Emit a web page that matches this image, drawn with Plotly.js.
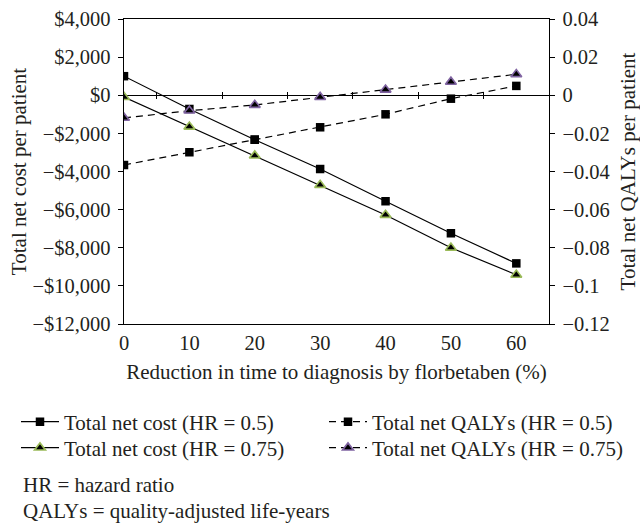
<!DOCTYPE html>
<html>
<head>
<meta charset="utf-8">
<script src="https://cdn.plot.ly/plotly-3.0.1.min.js"></script>
<style>html,body{margin:0;padding:0;background:#fff;}#chart{width:640px;height:523px;}</style>
</head>
<body>
<div id="chart"></div>
<script>
const reduction = [0, 10, 20, 30, 40, 50, 60];
const costHR050 = [1000, -720, -2330, -3870, -5560, -7240, -8820];
const costHR075 = [-100, -1650, -3170, -4710, -6280, -8000, -9420];
const qalyHR050 = [-0.0366, -0.0299, -0.0233, -0.0168, -0.0100, -0.0018, 0.0049];
const qalyHR075 = [-0.0119, -0.0081, -0.0051, -0.0010, 0.0029, 0.0070, 0.0110];
const costTicks = [4000, 2000, 0, -2000, -4000, -6000, -8000, -10000, -12000];
const costTickText = ['$4,000', '$2,000', '$0', '\u2212$2,000', '\u2212$4,000', '\u2212$6,000', '\u2212$8,000', '\u2212$10,000', '\u2212$12,000'];
const qalyTicks = [0.04, 0.02, 0, -0.02, -0.04, -0.06, -0.08, -0.1, -0.12];
const qalyTickText = ['0.04', '0.02', '0', '\u22120.02', '\u22120.04', '\u22120.06', '\u22120.08', '\u22120.1', '\u22120.12'];
const xTicks = [0, 10, 20, 30, 40, 50, 60];
const crossTicks = [5, 15, 25, 35, 45, 55];
const names = ['Total net cost (HR = 0.5)', 'Total net QALYs (HR = 0.5)', 'Total net cost (HR = 0.75)', 'Total net QALYs (HR = 0.75)'];
const notes = ['HR = hazard ratio', 'QALYs = quality-adjusted life-years'];

const FONT = 'Liberation Serif, Times New Roman, serif';
const TXT = '#231f20';
const W = 640, H = 523;
const M = {l: 124, r: 91, t: 19, b: 199};
const pw = W - M.l - M.r, ph = H - M.t - M.b;
const px = x => (x - M.l) / pw;
const py = y => (M.t + ph - y) / ph;

const sq = {symbol: 'square', size: 8.5, color: '#000', line: {color: '#000', width: 0}};
const triG = {symbol: 'triangle-up', size: 9.5, color: '#000', line: {color: '#9bbb59', width: 1.6}};
const triP = {symbol: 'triangle-up', size: 9.5, color: '#000', line: {color: '#8064a2', width: 1.6}};

const traces = [
  {x: reduction, y: costHR050, name: names[0], legend: 'legend', mode: 'lines+markers', line: {color: '#000', width: 1.2}, marker: sq, yaxis: 'y'},
  {x: reduction, y: qalyHR050, name: names[1], legend: 'legend2', mode: 'lines+markers', line: {color: '#000', width: 1.2, dash: '7px,5px'}, marker: sq, yaxis: 'y2'},
  {x: reduction, y: costHR075, name: names[2], legend: 'legend3', mode: 'lines+markers', line: {color: '#000', width: 1.2}, marker: triG, yaxis: 'y'},
  {x: reduction, y: qalyHR075, name: names[3], legend: 'legend4', mode: 'lines+markers', line: {color: '#000', width: 1.2, dash: '7px,5px'}, marker: triP, yaxis: 'y2'}
];

// legend slots: [left x of symbol area, row centre y] in page pixels
const legendSlots = [[16, 422], [324, 422], [16, 448], [324, 448]];
function legendAt(slot) {
  return {
    x: px(slot[0]), y: py(slot[1]), xanchor: 'left', yanchor: 'middle',
    orientation: 'v', itemwidth: 38,
    font: {family: FONT, size: 21, color: TXT}, bgcolor: 'rgba(0,0,0,0)', borderwidth: 0
  };
}

const layout = {
  width: W, height: H,
  margin: M,
  paper_bgcolor: '#fff', plot_bgcolor: '#fff',
  font: {family: FONT, size: 20.5, color: TXT},
  showlegend: true,
  legend: legendAt(legendSlots[0]),
  legend2: legendAt(legendSlots[1]),
  legend3: legendAt(legendSlots[2]),
  legend4: legendAt(legendSlots[3]),
  xaxis: {
    range: [0, 65], tickvals: xTicks, ticks: '', showgrid: false, zeroline: false,
    showline: true, linecolor: '#000', linewidth: 1.3, mirror: true,
    title: {text: 'Reduction in time to diagnosis by florbetaben (%)', font: {family: FONT, size: 21}, standoff: 11},
    tickfont: {family: FONT, size: 20.5}, fixedrange: true
  },
  xaxis2: {
    range: [0, 65], tickvals: crossTicks, ticks: 'outside', ticklen: 3, tickcolor: '#000', tickwidth: 1,
    showticklabels: false, showgrid: false, zeroline: false, showline: false,
    overlaying: 'x', anchor: 'free', position: 0.75, side: 'bottom'
  },
  xaxis3: {
    range: [0, 65], tickvals: crossTicks, ticks: 'outside', ticklen: 3, tickcolor: '#000', tickwidth: 1,
    showticklabels: false, showgrid: false, zeroline: false, showline: false,
    overlaying: 'x', anchor: 'free', position: 0.75, side: 'top'
  },
  yaxis: {
    range: [-12000, 4000], tickvals: costTicks, ticktext: costTickText,
    ticks: 'outside', ticklen: 5, tickcolor: '#000', showgrid: false,
    zeroline: true, zerolinecolor: '#000', zerolinewidth: 1.3,
    showline: true, linecolor: '#000', linewidth: 1.3,
    title: {text: 'Total net cost per patient', font: {family: FONT, size: 21}, standoff: 0},
    tickfont: {family: FONT, size: 20.5}, ticklabelstandoff: 3
  },
  yaxis2: {
    range: [-0.12, 0.04], tickvals: qalyTicks, ticktext: qalyTickText,
    overlaying: 'y', side: 'right', anchor: 'x',
    ticks: 'outside', ticklen: 5, tickcolor: '#000', showgrid: false, zeroline: false,
    showline: true, linecolor: '#000', linewidth: 1.3,
    title: {text: 'Total net QALYs per patient', font: {family: FONT, size: 21}, standoff: 15},
    tickfont: {family: FONT, size: 20.5}, ticklabelstandoff: 3
  },
  annotations: notes.map((t, i) => ({
    text: t, xref: 'paper', yref: 'paper', x: px(21), y: py(485 + 26 * i),
    xanchor: 'left', yanchor: 'middle', showarrow: false,
    font: {family: FONT, size: 21, color: TXT}
  }))
};

// invisible helper traces that activate the crossing-tick axes at y = 0
traces.push({x: [0], y: [0], xaxis: 'x2', yaxis: 'y', mode: 'markers', marker: {opacity: 0}, showlegend: false, hoverinfo: 'skip'});
traces.push({x: [0], y: [0], xaxis: 'x3', yaxis: 'y', mode: 'markers', marker: {opacity: 0}, showlegend: false, hoverinfo: 'skip'});

Plotly.newPlot('chart', traces, layout, {staticPlot: true, displayModeBar: false});
</script>
</body>
</html>
